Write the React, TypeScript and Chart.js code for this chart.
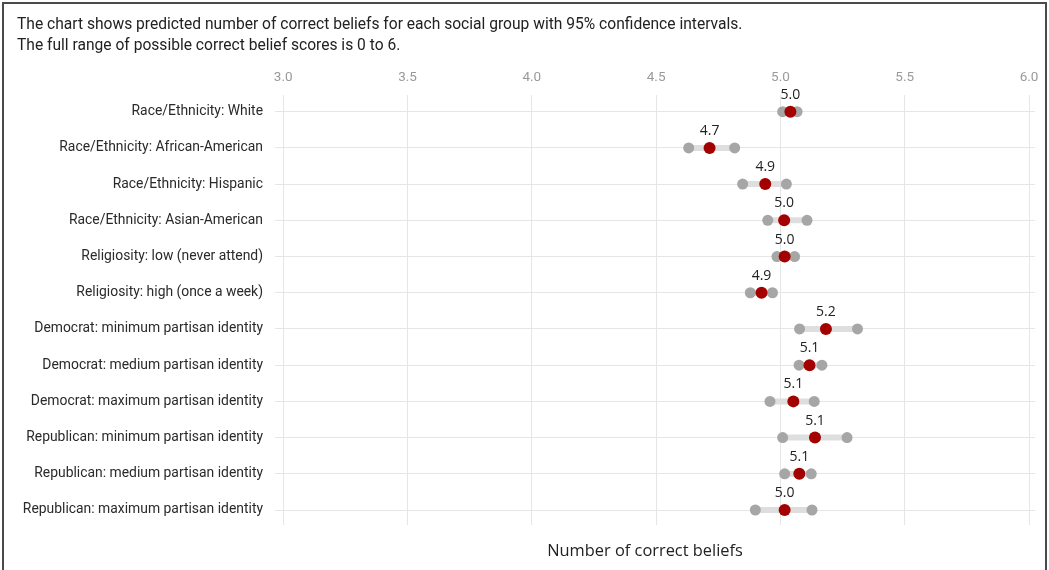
import React, { useEffect, useRef } from "react";
import { Chart, registerables } from "chart.js";

Chart.register(...registerables);

// Social groups, top to bottom
const groups = [
  "Race/Ethnicity: White",
  "Race/Ethnicity: African-American",
  "Race/Ethnicity: Hispanic",
  "Race/Ethnicity: Asian-American",
  "Religiosity: low (never attend)",
  "Religiosity: high (once a week)",
  "Democrat: minimum partisan identity",
  "Democrat: medium partisan identity",
  "Democrat: maximum partisan identity",
  "Republican: minimum partisan identity",
  "Republican: medium partisan identity",
  "Republican: maximum partisan identity",
];

// Predicted number of correct beliefs with 95% confidence bounds
const estimates = [5.04, 4.715, 4.939, 5.015, 5.017, 4.924, 5.183, 5.117, 5.052, 5.139, 5.076, 5.017];
const lowerCI = [5.009, 4.631, 4.848, 4.949, 4.986, 4.879, 5.077, 5.075, 4.958, 5.009, 5.017, 4.899];
const upperCI = [5.067, 4.816, 5.024, 5.107, 5.057, 4.968, 5.31, 5.167, 5.136, 5.268, 5.124, 5.127];

const xTicks = [3.0, 3.5, 4.0, 4.5, 5.0, 5.5, 6.0];

const titleLines = [
  "The chart shows predicted number of correct beliefs for each social group with 95% confidence intervals.",
  "The full range of possible correct belief scores is 0 to 6.",
];
const xAxisTitle = "Number of correct beliefs";

const W = 1049;
const H = 570;

const decorations = {
  id: "decorations",
  beforeDraw(chart: any) {
    const ctx = chart.ctx;
    ctx.save();
    ctx.fillStyle = "#ffffff";
    ctx.fillRect(0, 0, chart.width, chart.height);
    ctx.restore();
  },
  afterDraw(chart: any) {
    const ctx = chart.ctx;
    const xs = chart.scales.x;
    const ys = chart.scales.y;
    ctx.save();

    // frame
    ctx.strokeStyle = "#4a4a4a";
    ctx.lineWidth = 2;
    ctx.strokeRect(3, 3, W - 6, H + 20);

    // header text
    ctx.fillStyle = "#222222";
    ctx.font = "15.6px Roboto";
    ctx.textAlign = "left";
    ctx.textBaseline = "middle";
    titleLines.forEach((line, i) => ctx.fillText(line, 17, 25 + i * 21));

    // axis title below the plot
    ctx.font = "16.4px 'Open Sans'";
    ctx.textAlign = "center";
    ctx.fillText(xAxisTitle, 645, 551);

    // value labels above each estimate
    ctx.font = "14px 'Open Sans'";
    estimates.forEach((v, i) => {
      const px = xs.getPixelForValue(v);
      const py = ys.getPixelForValue(i);
      ctx.fillText(v.toFixed(1), px, py - 17);
    });
    ctx.restore();
  },
};

export default function App() {
  const ref = useRef<HTMLCanvasElement>(null);

  useEffect(() => {
    if (!ref.current) return;

    const segments = groups.map((_, i) => ({
      type: "line" as const,
      data: [
        { x: lowerCI[i], y: i },
        { x: upperCI[i], y: i },
      ],
      borderColor: "#dedede",
      borderWidth: 6,
      borderCapStyle: "butt",
      pointRadius: 0,
      showLine: true,
      order: 3,
    }));

    const bounds = [
      ...lowerCI.map((v, i) => ({ x: v, y: i })),
      ...upperCI.map((v, i) => ({ x: v, y: i })),
    ];

    const chart = new Chart(ref.current, {
      type: "scatter",
      data: {
        datasets: [
          {
            data: estimates.map((v, i) => ({ x: v, y: i })),
            backgroundColor: "#a30000",
            borderWidth: 0,
            pointRadius: 6,
            order: 0,
          },
          {
            data: bounds,
            backgroundColor: "#a6a6a6",
            borderWidth: 0,
            pointRadius: 5.5,
            order: 1,
          },
          ...segments,
        ] as any,
      },
      options: {
        animation: false,
        responsive: false,
        devicePixelRatio: 1,
        layout: { padding: { top: 0, left: 0, right: 14, bottom: 45 } },
        plugins: {
          legend: { display: false },
          tooltip: { enabled: false },
          title: { display: false },
        },
        scales: {
          x: {
            type: "linear",
            position: "top",
            min: 2.967,
            max: 6.024,
            afterBuildTicks: (s: any) => {
              s.ticks = xTicks.map((v) => ({ value: v }));
            },
            afterFit: (s: any) => {
              s.height = 95;
            },
            ticks: {
              callback: (v: any) => Number(v).toFixed(1),
              color: "#9a9a9a",
              font: { family: "Roboto", size: 13.5 },
              padding: 9,
              maxRotation: 0,
            },
            grid: { color: "#e6e6e6", drawTicks: false, lineWidth: 1 },
            border: { display: false },
          },
          y: {
            type: "linear",
            reverse: true,
            min: -0.461,
            max: 11.414,
            afterBuildTicks: (s: any) => {
              s.ticks = groups.map((_, i) => ({ value: i }));
            },
            afterFit: (s: any) => {
              s.width = 275;
            },
            ticks: {
              callback: (v: any) => groups[Number(v)] ?? "",
              color: "#2a2a2a",
              font: { family: "Roboto", size: 13.9 },
              padding: 12,
            },
            grid: { color: "#e6e6e6", drawTicks: false, lineWidth: 1 },
            border: { display: false },
          },
        },
      },
      plugins: [decorations],
    });

    return () => chart.destroy();
  }, []);

  return (
    <div style={{ position: "fixed", left: 0, top: 0, width: W, height: H }}>
      <canvas ref={ref} width={W} height={H} style={{ width: W, height: H, display: "block" }} />
    </div>
  );
}
